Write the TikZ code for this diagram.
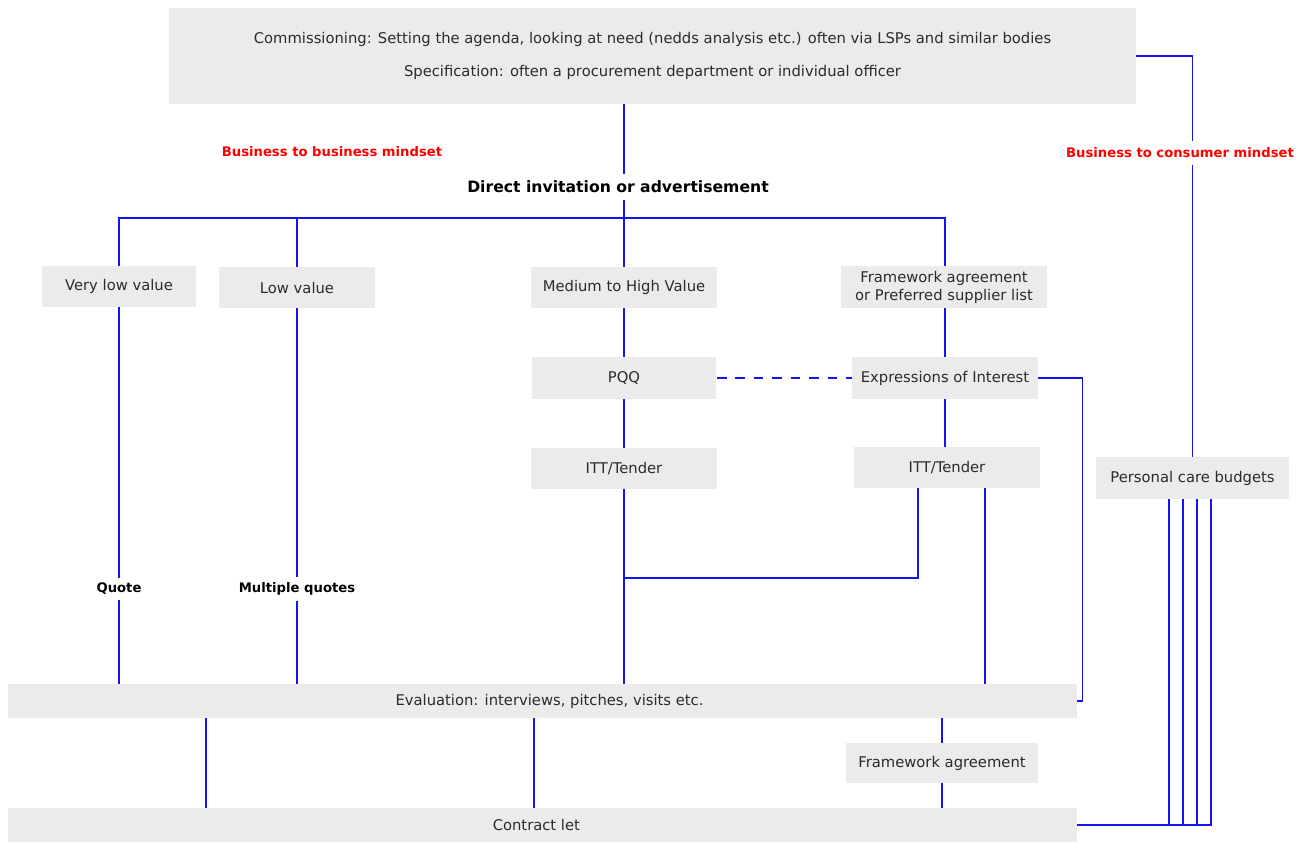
\documentclass[tikz,border=0pt]{standalone}
\usepackage{fontspec}
\setmainfont{DejaVu Sans}
\usetikzlibrary{calc}
\definecolor{ink}{HTML}{2B2B2B}
\definecolor{boxgray}{HTML}{EBEBEB}
\definecolor{wire}{HTML}{1414F0}
\definecolor{alert}{HTML}{FF0000}
\tikzset{
  box/.style={fill=boxgray, text=ink, font=\fontsize{8.4}{10.2}\selectfont, inner sep=0pt, minimum height=0.82cm, align=center},
  link/.style={draw=wire, line width=0.6pt},
  dlink/.style={link, dash pattern=on 5.5pt off 5pt},
  lab/.style={text=black, font=\bfseries\fontsize{8.9}{10}\selectfont, inner sep=4pt},
  labs/.style={text=black, font=\bfseries\fontsize{7.5}{9}\selectfont, inner sep=3pt},
  mind/.style={text=alert, font=\bfseries\fontsize{7.5}{9}\selectfont, inner sep=4pt},
}

\begin{document}
\begin{tikzpicture}[x=0.02cm, y=-0.02cm]
  \useasboundingbox (0,0) rectangle (1311,842);
  \coordinate (bar) at (624,218);
  \coordinate (join) at (624,578);
  \coordinate (c1) at (206,0);
  \coordinate (c2) at (534,0);
  \coordinate (c3) at (918,0);
  \coordinate (c4) at (985,0);
  \node[box, minimum width=19.34cm, minimum height=1.92cm] (top) at (652.5,56)
    {Commissioning: Setting the agenda, looking at need (nedds analysis etc.) often via LSPs and similar bodies\\[8.5pt]
     Specification: often a procurement department or individual officer};
  \node[mind] (b2b) at (332,152) {Business to business mindset};
  \node[mind] (b2c) at (1180,153) {Business to consumer mindset};
  \node[lab] (dir) at (618,187) {Direct invitation or advertisement};
  \node[box, minimum width=3.1cm] (vlow) at (119,286.5) {Very low value};
  \node[box, minimum width=3.12cm] (low) at (297,287.5) {Low value};
  \node[box, minimum width=3.72cm] (mid) at (624,287.5) {Medium to High Value};
  \node[box, minimum width=4.14cm, minimum height=0.84cm] (fw) at (944,287) {Framework agreement\\or Preferred supplier list};
  \node[box, minimum width=3.7cm, minimum height=0.84cm] (pqq) at (624,378) {PQQ};
  \node[box, minimum width=3.72cm, minimum height=0.84cm] (eoi) at (945,378) {Expressions of Interest};
  \node[box, minimum width=3.72cm] (itt1) at (624,468.5) {ITT/Tender};
  \node[box, minimum width=3.72cm] (itt2) at (947,467.5) {ITT/Tender};
  \node[box, minimum width=3.86cm, minimum height=0.84cm] (pcb) at (1192.5,478) {Personal care budgets};
  \node[labs] (quote) at (119,589) {Quote};
  \node[labs] (mquote) at (297,589) {Multiple quotes};
  \node[box, minimum width=21.38cm, minimum height=0.68cm] (eval) at (542.5,701) {\hspace{8pt}Evaluation: interviews, pitches, visits etc.};
  \node[box, minimum width=3.84cm, minimum height=0.8cm] (fwa) at (942,763) {Framework agreement};
  \node[box, minimum width=21.38cm, minimum height=0.68cm] (con) at (542.5,825) {\hspace{-7pt}Contract let};

  \draw[link] (top.south -| mid) -- (dir.north -| mid);
  \draw[link] (dir.south -| mid) -- (mid.north);
  \draw[link] (vlow.north) |- (bar) -| (fw.north -| eoi);
  \draw[link] (low.north) -- (low.north |- bar);
  \draw[link] (vlow.south) -- (quote.north);
  \draw[link] (quote.south) -- (quote.south |- eval.north);
  \draw[link] (low.south) -- (mquote.north);
  \draw[link] (mquote.south) -- (mquote.south |- eval.north);
  \draw[link] (mid) -- (pqq) -- (itt1);
  \draw[link] (itt1.south) -- (itt1.south |- eval.north);
  \draw[dlink] (pqq.east) -- (eoi.west);
  \draw[link] (fw.south -| eoi) -- (eoi.north);
  \draw[link] (eoi.south) -- (itt2.north -| eoi);
  \draw[link] (itt2.south -| c3) |- (join);
  \draw[link] (itt2.south -| c4) -- (eval.north -| c4);
  \draw[link] (eoi.east) -- ++(44,0) |- (eval.east);
  \draw[link] (eval.south -| c1) -- (con.north -| c1);
  \draw[link] (eval.south -| c2) -- (con.north -| c2);
  \draw[link] (eval.south -| fwa) -- (fwa.north);
  \draw[link] (fwa.south) -- (con.north -| fwa);
  \draw[link] (top.east) -| (b2c.north -| pcb);
  \draw[link] (b2c.south -| pcb) -- (pcb.north);
  \foreach \dx in {-23.5,-9.5,4.5,18.5}
    \draw[link] (con.east) -| ($(pcb.south)+(\dx,0)$);
\end{tikzpicture}
\end{document}
